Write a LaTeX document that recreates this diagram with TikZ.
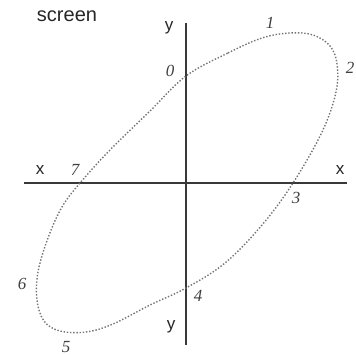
\documentclass[tikz,border=0pt]{standalone}
\usepackage{fontspec}
\setmainfont{Liberation Serif}
\setsansfont{Liberation Sans}
\begin{document}
\begin{tikzpicture}[x=1pt,y=-1pt,
  axis/.style={line width=1.6pt,color=black!78},
  curvestyle/.style={line width=1.4pt,color=black!55,dash pattern=on 1.4pt off 1.8pt},
  sanslab/.style={inner sep=0pt,font=\sffamily\fontsize{17}{17}\selectfont,text=black!85},
  numlab/.style={inner sep=0pt,font=\itshape\fontsize{17}{17}\selectfont,text=black!75}]
\useasboundingbox (0,0) rectangle (355,355);
\coordinate (xl) at (24,183);
\coordinate (xr) at (347,183);
\coordinate (yt) at (186,23);
\coordinate (yb) at (186,345);
\draw[axis] (xl) -- (xr);
\draw[axis] (yt) -- (yb);
\draw[curvestyle] plot[smooth cycle,tension=0.6] coordinates {
 (186,76) (228,53) (262,38) (290,33) (313,35) (330,46) (337,64) (336,92) (322,132) (293,183)
 (262,225) (225,263) (186,288) (150,305) (113,324) (86,332) (60,331) (44,321) (37,300) (38,272) (48,238) (62,207) (80,183)
 (110,150) (150,111)};
\node[sanslab,font=\sffamily\fontsize{20}{20}\selectfont] (scr) at (67,16) {screen};
\node[sanslab] (ytop) at (169,28) {y};
\node[sanslab] (ybot) at (171,327) {y};
\node[sanslab] (xleft) at (40,170) {x};
\node[sanslab] (xright) at (340,170) {x};
\node[numlab] (n0) at (170,71) {0};
\node[numlab] (n1) at (270,23) {1};
\node[numlab] (n2) at (350,68) {2};
\node[numlab] (n3) at (296,198) {3};
\node[numlab] (n4) at (198,296) {4};
\node[numlab] (n5) at (66,347) {5};
\node[numlab] (n6) at (22,284) {6};
\node[numlab] (n7) at (75,170) {7};
\end{tikzpicture}
\end{document}
